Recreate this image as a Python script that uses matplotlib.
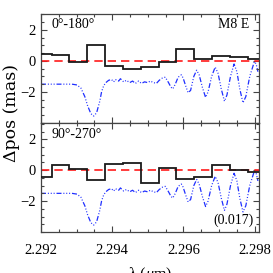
import matplotlib
matplotlib.use("Agg")
import matplotlib.pyplot as plt
from matplotlib.ticker import MultipleLocator

plt.rcParams['font.family'] = ['Liberation Serif', 'DejaVu Serif']
plt.rcParams['mathtext.fontset'] = 'custom'
plt.rcParams['mathtext.rm'] = 'Liberation Serif'
plt.rcParams['mathtext.it'] = 'Liberation Serif:italic'

# ---- data ----
bin_edges = [2.2920, 2.2923, 2.2928, 2.2933, 2.2938, 2.2943, 2.2948, 2.2953,
             2.2958, 2.2963, 2.2968, 2.2973, 2.2978, 2.29812]
top_obs = [0.46, 0.36, -0.06, 1.02, -0.36, -0.55, -0.42, -0.08, 0.75, 0.12, 0.33, 0.27, 0.14]
bot_obs = [-0.47, 0.34, 0.06, -0.64, 0.40, 0.49, -0.86, 0.13, -0.58, -0.43, 0.32, 0.02, -0.09]

model_wl = [2.29200, 2.29253, 2.29287, 2.29301, 2.29312, 2.29323, 2.29331, 2.29340,
            2.29348, 2.29356, 2.29365, 2.29370, 2.29376, 2.29382, 2.29390, 2.29398,
            2.29404, 2.29409, 2.29418, 2.29423, 2.29432, 2.29440, 2.29449, 2.29457,
            2.29465, 2.29474, 2.29482, 2.29491, 2.29499, 2.29507, 2.29516, 2.29524,
            2.29532, 2.29541, 2.29549, 2.29558, 2.29565, 2.29570, 2.29577, 2.29585,
            2.29594, 2.29599, 2.29606, 2.29613, 2.29620, 2.29629, 2.29637, 2.29644,
            2.29653, 2.29662, 2.29669, 2.29679, 2.29689, 2.29697, 2.29706, 2.29715,
            2.29722, 2.29732, 2.29742, 2.29750, 2.29758, 2.29767, 2.29775, 2.29786,
            2.29799, 2.29804, 2.29809]
model_val = [-1.50, -1.50, -1.50, -1.55, -1.75, -2.30, -2.90, -3.40,
             -3.55, -3.35, -2.60, -2.00, -1.60, -1.40, -1.25, -1.20,
             -1.35, -1.20, -1.30, -1.15, -1.35, -1.25, -1.40, -1.30,
             -1.45, -1.30, -1.45, -1.35, -1.40, -1.30, -1.40, -1.45,
             -1.25, -1.10, -1.05, -1.40, -1.70, -1.80, -1.50, -1.05,
             -0.90, -1.10, -1.60, -2.05, -1.90, -1.00, -0.60, -0.90,
             -1.70, -2.35, -2.00, -1.00, -0.40, -0.80, -1.80, -2.60,
             -2.20, -1.00, -0.20, -0.70, -1.80, -2.70, -2.30, -1.00,
             -0.05, -0.20, -0.70]

panel_labels = ["0°-180°", "90°-270°"]
star_label = "M8 E"
note_label = "(0.017)"
ylabel = "Δpos (mas)"
xlabel = "λ ($\\mu$m)"
xticks = [2.292, 2.294, 2.296, 2.298]
xticklabels = ["2.292", "2.294", "2.296", "2.298"]
yticks = [-2, 0, 2]
yticklabels = ["\u22122", "0", "2"]

W = H = 273
fig = plt.figure(figsize=(W / 100, H / 100), dpi=100)
L, R = 41 / W, 259 / W
t1, mid, b2 = 1 - 13.5 / H, 1 - 123 / H, 1 - 232 / H
ax1 = fig.add_axes([L, mid, R - L, t1 - mid])
ax2 = fig.add_axes([L, b2, R - L, mid - b2])

for ax, obs in ((ax1, top_obs), (ax2, bot_obs)):
    ax.stairs(obs, bin_edges, baseline=None, color='#1a1a1a', lw=1.3, zorder=3)
    ax.axhline(0, color='#ff1a1a', lw=1.2, dashes=(5, 3), zorder=2)
    ax.plot(model_wl, model_val, color='#1f2fff', lw=0.9,
            dashes=(4, 1.5, 0.8, 1.5, 0.8, 1.5, 0.8, 1.5), zorder=1)
    ax.set_xlim(2.292, 2.29812)
    ax.set_ylim(-4, 3.05)
    ax.xaxis.set_major_locator(MultipleLocator(0.002))
    ax.xaxis.set_minor_locator(MultipleLocator(0.0005))
    ax.set_yticks(yticks)
    ax.set_yticklabels(yticklabels)
    ax.yaxis.set_minor_locator(MultipleLocator(0.5))
    ax.tick_params(which='both', direction='in', top=True, right=True,
                   colors='#444444', labelcolor='black', labelsize=10.5)
    ax.tick_params(which='major', length=4.5, width=0.8)
    ax.tick_params(which='minor', length=2.5, width=0.8)
    ax.tick_params(axis='y', pad=4)
    ax.tick_params(axis='x', pad=9)
    for s in ax.spines.values():
        s.set_color('#444444')
        s.set_linewidth(0.9)

ax1.set_xticks(xticks)
ax1.set_xticklabels([])
ax2.set_xticks(xticks)
ax2.set_xticklabels(xticklabels)

ax1.text(52 / W, 1 - 25 / H, panel_labels[0], transform=fig.transFigure,
         fontsize=10, ha='left', va='center')
ax1.text(249 / W, 1 - 25 / H, star_label, transform=fig.transFigure,
         fontsize=10, ha='right', va='center')
ax2.text(52 / W, 1 - 134 / H, panel_labels[1], transform=fig.transFigure,
         fontsize=10, ha='left', va='center')
ax2.text(254 / W, 1 - 220 / H, note_label, transform=fig.transFigure,
         fontsize=10, ha='right', va='center')

fig.text(12 / W, 1 - 113 / H, ylabel, rotation=90, fontsize=12.5,
         family=['DejaVu Serif'], ha='center', va='center')
fig.text(150 / W, 1 - 265 / H, xlabel, fontsize=11.5, ha='center', va='top')

fig.savefig("out.png", dpi=100)
